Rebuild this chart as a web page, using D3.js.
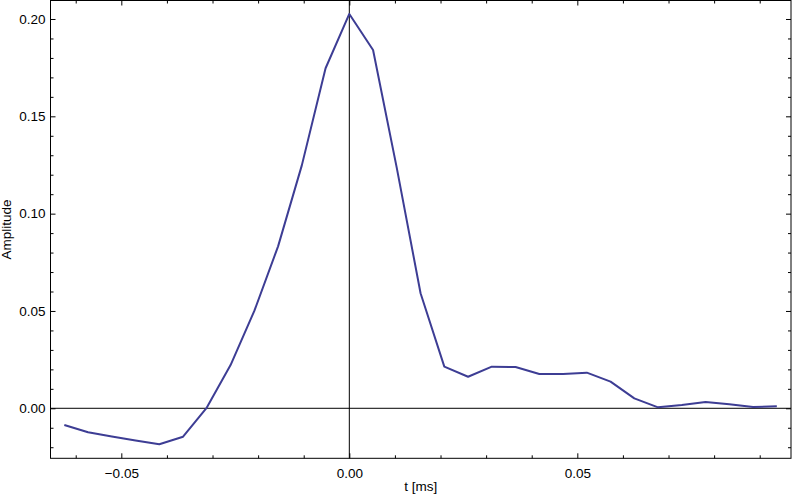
<!DOCTYPE html>
<html>
<head>
<meta charset="utf-8">
<script src="https://cdn.jsdelivr.net/npm/d3@7"></script>
<style>
  body { margin: 0; background: #fff; }
  text { font-family: "Liberation Sans", Arial, sans-serif; }
</style>
</head>
<body>
<div id="chart"></div>
<script>
// sample index (192 kHz -> 1/192 ms per step) and amplitude
var sampleIndex = [-12, -11, -10, -9, -8, -7, -6, -5, -4, -3, -2, -1, 0, 1, 2, 3,
  4, 5, 6, 7, 8, 9, 10, 11, 12, 13, 14, 15, 16, 17, 18];
var amplitude = [-0.0086, -0.0123, -0.0145, -0.0165, -0.0185, -0.0146, 0.0004, 0.0222,
  0.0500, 0.0832, 0.1248, 0.1747, 0.2026, 0.1841, 0.1234, 0.0591,
  0.0214, 0.0162, 0.0214, 0.0212, 0.0176, 0.0176, 0.0183, 0.0137,
  0.0051, 0.0005, 0.0017, 0.0032, 0.0021, 0.0007, 0.0010];
var sampleStep = 1 / 192;
var xMajorTicks = [-0.05, 0, 0.05];
var yMajorTicks = [0, 0.05, 0.10, 0.15, 0.20];

var data = sampleIndex.map(function(k, i) {
  return {t: k * sampleStep, a: amplitude[i]};
});

var svgWidth = 793, svgHeight = 497;
var plotLeft = 50.5, plotRight = 791, plotTop = 0.5, plotBottom = 458.3;

var svg = d3.select("#chart").append("svg")
  .attr("width", svgWidth)
  .attr("height", svgHeight);

var x = d3.scaleLinear().domain([-0.06553, 0.09686]).range([plotLeft, plotRight]);
var y = d3.scaleLinear().domain([-0.02569, 0.2095]).range([plotBottom, plotTop]);

var yMinor = d3.range(-2, 21).filter(d => d % 5 !== 0).map(d => d / 100);
var xMinor = d3.range(-6, 10).filter(d => d % 5 !== 0).map(d => d / 100);

var fmt = d3.format(".2f");

function styleAxis(g) {
  g.select(".domain").remove();
  g.selectAll("line").attr("stroke", "#000").attr("stroke-width", 1);
  g.selectAll("text").attr("font-size", "13.5px").attr("fill", "#000");
}

// bottom axis with labels (ticks pointing inward)
svg.append("g")
  .attr("transform", `translate(0,${plotBottom})`)
  .call(d3.axisBottom(x).tickValues(xMajorTicks).tickFormat(fmt).tickSize(-5).tickPadding(10))
  .call(styleAxis);
svg.append("g")
  .attr("transform", `translate(0,${plotBottom})`)
  .call(d3.axisBottom(x).tickValues(xMinor).tickFormat("").tickSize(-3))
  .call(styleAxis);
// top axis ticks
svg.append("g")
  .attr("transform", `translate(0,${plotTop})`)
  .call(d3.axisTop(x).tickValues(xMajorTicks).tickFormat("").tickSize(-5))
  .call(styleAxis);
svg.append("g")
  .attr("transform", `translate(0,${plotTop})`)
  .call(d3.axisTop(x).tickValues(xMinor).tickFormat("").tickSize(-3))
  .call(styleAxis);
// left axis with labels
svg.append("g")
  .attr("transform", `translate(${plotLeft},0)`)
  .call(d3.axisLeft(y).tickValues(yMajorTicks).tickFormat(fmt).tickSize(-5).tickPadding(5))
  .call(styleAxis);
svg.append("g")
  .attr("transform", `translate(${plotLeft},0)`)
  .call(d3.axisLeft(y).tickValues(yMinor).tickFormat("").tickSize(-3))
  .call(styleAxis);
// right axis ticks
svg.append("g")
  .attr("transform", `translate(${plotRight},0)`)
  .call(d3.axisRight(y).tickValues(yMajorTicks).tickFormat("").tickSize(-5))
  .call(styleAxis);
svg.append("g")
  .attr("transform", `translate(${plotRight},0)`)
  .call(d3.axisRight(y).tickValues(yMinor).tickFormat("").tickSize(-3))
  .call(styleAxis);

// frame
svg.append("rect")
  .attr("x", plotLeft).attr("y", plotTop)
  .attr("width", plotRight - plotLeft).attr("height", plotBottom - plotTop)
  .attr("fill", "none").attr("stroke", "#000").attr("stroke-width", 1);

// zero axes
svg.append("line")
  .attr("x1", plotLeft).attr("x2", plotRight)
  .attr("y1", y(0)).attr("y2", y(0))
  .attr("stroke", "#000").attr("stroke-width", 1);
svg.append("line")
  .attr("x1", x(0)).attr("x2", x(0))
  .attr("y1", plotTop).attr("y2", plotBottom)
  .attr("stroke", "#000").attr("stroke-width", 1);

// data line
var line = d3.line().x(d => x(d.t)).y(d => y(d.a));
svg.append("path")
  .datum(data)
  .attr("d", line)
  .attr("fill", "none")
  .attr("stroke", "#3d3d94")
  .attr("stroke-width", 2)
  .attr("stroke-linejoin", "round");

// axis titles
svg.append("text")
  .attr("x", (plotLeft + plotRight) / 2)
  .attr("y", 491)
  .attr("text-anchor", "middle")
  .attr("font-size", "13.5px")
  .text("t [ms]");
svg.append("text")
  .attr("transform", `translate(11,${(plotTop + plotBottom) / 2}) rotate(-90)`)
  .attr("text-anchor", "middle")
  .attr("font-size", "13.5px")
  .text("Amplitude");
</script>
</body>
</html>
